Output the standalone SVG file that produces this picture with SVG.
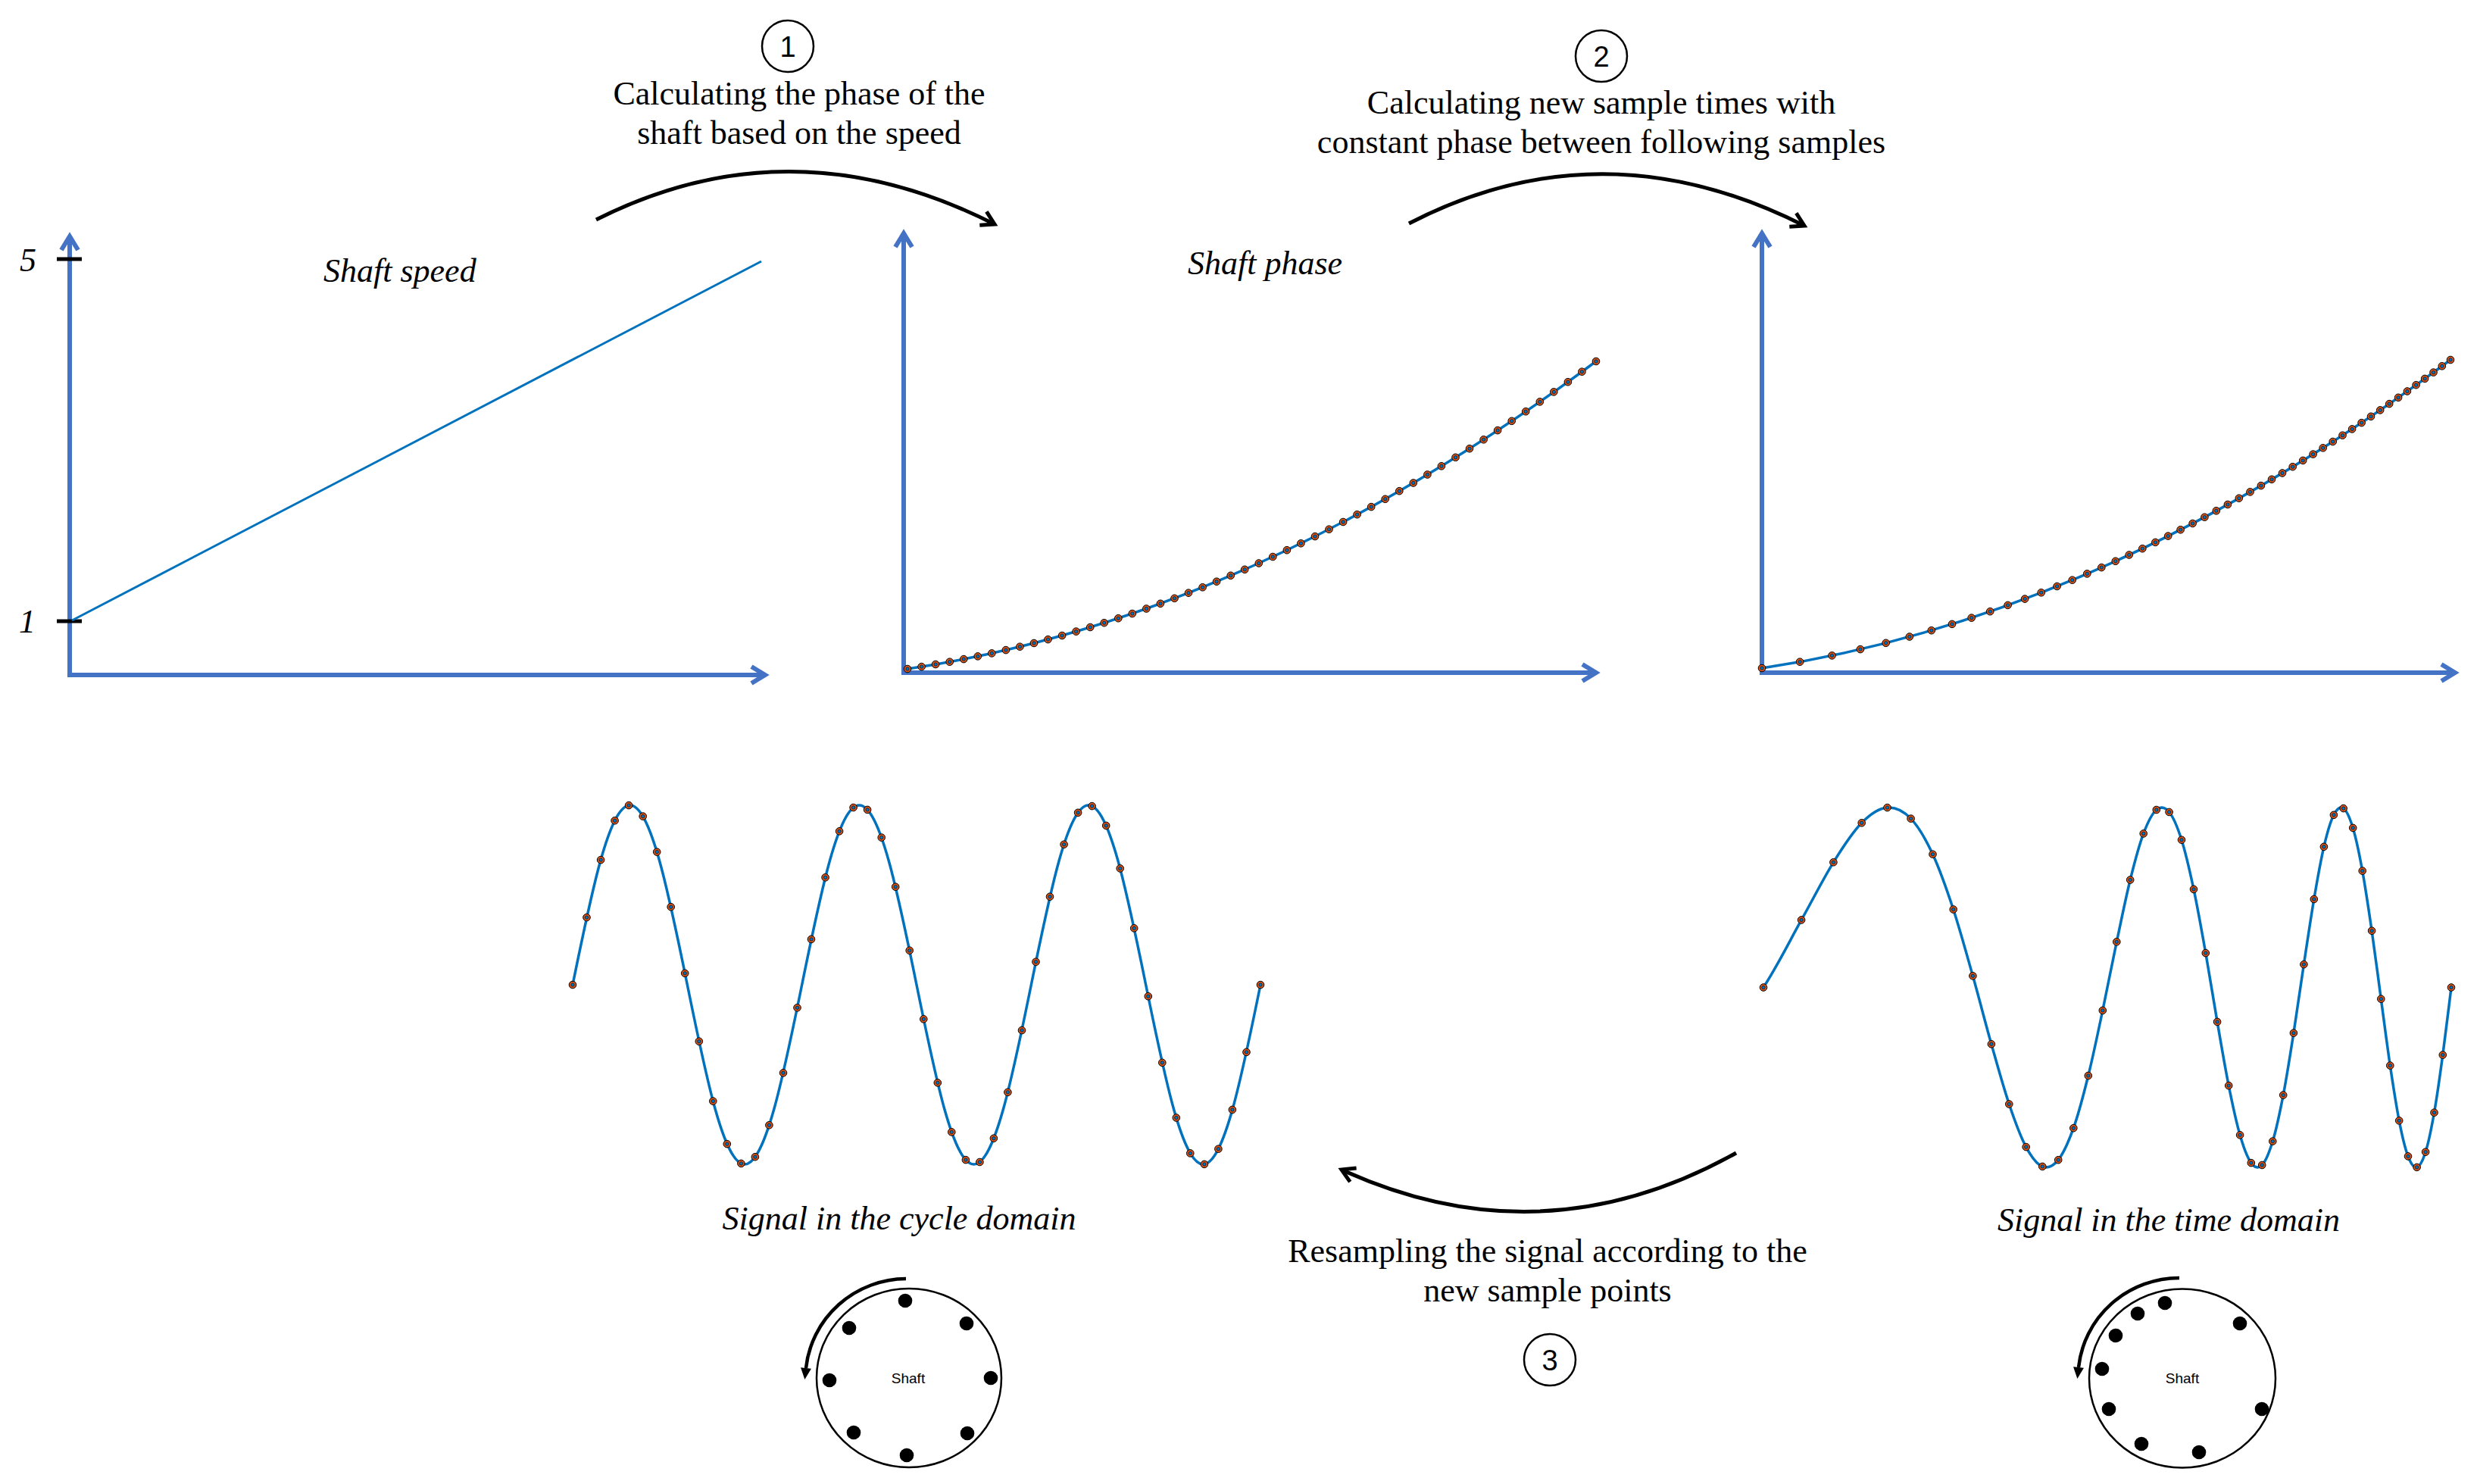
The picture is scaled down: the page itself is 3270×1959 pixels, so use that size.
<svg xmlns="http://www.w3.org/2000/svg" width="3270" height="1959" viewBox="0 0 3270 1959">
<style>
.ax{fill:none;stroke:#4472C4;stroke-width:6;stroke-linejoin:miter;marker-start:url(#axh);marker-end:url(#axh)}
.data{fill:none;stroke:#0072BD;stroke-width:3.5;stroke-linejoin:round}
.mk{fill:none;stroke:none;marker-start:url(#mk);marker-mid:url(#mk);marker-end:url(#mk)}
.t{font-family:"Liberation Serif","Times New Roman",serif;font-size:44px;fill:#000}
.it{font-style:italic}
.num{font-family:"Liberation Sans",Arial,sans-serif;font-size:38px;fill:#000;text-anchor:middle}
.ring{fill:none;stroke:#000;stroke-width:2.5}
.conn{fill:none;stroke:#000;stroke-width:5;marker-end:url(#blk)}
.rot{fill:none;stroke:#000;stroke-width:4.5;marker-end:url(#fa)}
.shaft{fill:none;stroke:#000;stroke-width:2.5}
.sl{font-family:"Liberation Sans",Arial,sans-serif;font-size:19px;fill:#000;text-anchor:middle}
</style>
<defs>
<marker id="axh" markerUnits="userSpaceOnUse" markerWidth="40" markerHeight="40" refX="0" refY="0" orient="auto-start-reverse" style="overflow:visible"><path d="M-18,-11 L0,0 L-18,11" fill="none" stroke="#4472C4" stroke-width="6"/></marker>
<marker id="mk" markerUnits="userSpaceOnUse" markerWidth="14" markerHeight="14" refX="0" refY="0" orient="0" style="overflow:visible"><circle r="4.8" fill="#D95319" stroke="#000" stroke-width="1"/><circle r="2.2" fill="#0072BD" stroke="#000" stroke-width="0.6"/></marker>
<marker id="blk" markerUnits="userSpaceOnUse" markerWidth="40" markerHeight="40" refX="0" refY="0" orient="auto" style="overflow:visible"><path d="M-17,-10 L0,0 L-17,10" fill="none" stroke="#000" stroke-width="5"/></marker>
<marker id="fa" markerUnits="userSpaceOnUse" markerWidth="30" markerHeight="30" refX="0" refY="0" orient="auto" style="overflow:visible"><path d="M0,-7 L15,0 L0,7 Z" fill="#000"/></marker>
</defs>
<rect width="3270" height="1959" fill="#fff"/>

<g id="panel-speed">
<path class="ax" d="M92,312 L92,891 L1010,891"/>
<line x1="75" y1="342" x2="108" y2="342" stroke="#000" stroke-width="5"/>
<line x1="75" y1="820" x2="108" y2="820" stroke="#000" stroke-width="5"/>
<text class="t it" x="37" y="358" text-anchor="middle">5</text>
<text class="t it" x="36" y="835" text-anchor="middle">1</text>
<line x1="95" y1="819" x2="1005" y2="345" stroke="#0072BD" stroke-width="3"/>
<text class="t it" x="427" y="372">Shaft speed</text>
</g>

<g id="panel-phase">
<path class="ax" d="M1193,308 L1193,888 L2107,888"/>
<path class="data" d="M1198,883 Q1652.5,815.3 2107,477"/>
<polyline class="mk" points="1198.0,883.0 1216.6,880.1 1235.1,877.0 1253.7,873.7 1272.2,870.1 1290.8,866.4 1309.3,862.4 1327.9,858.1 1346.4,853.7 1365.0,849.0 1383.5,844.1 1402.1,839.0 1420.6,833.6 1439.2,828.0 1457.7,822.2 1476.3,816.2 1494.8,810.0 1513.4,803.5 1531.9,796.8 1550.5,789.8 1569.0,782.7 1587.6,775.3 1606.1,767.7 1624.7,759.8 1643.2,751.8 1661.8,743.5 1680.3,735.0 1698.9,726.2 1717.4,717.3 1736.0,708.1 1754.5,698.7 1773.1,689.0 1791.6,679.2 1810.2,669.1 1828.7,658.8 1847.3,648.2 1865.8,637.5 1884.4,626.5 1902.9,615.3 1921.5,603.8 1940.0,592.2 1958.6,580.3 1977.1,568.1 1995.7,555.8 2014.2,543.2 2032.8,530.4 2051.3,517.4 2069.9,504.2 2088.4,490.7 2107.0,477.0"/>
<text class="t it" x="1568" y="362">Shaft phase</text>
</g>

<g id="panel-newtimes">
<path class="ax" d="M2326,308 L2326,888 L3241,888"/>
<path class="data" d="M2326,882 Q2780.5,814.2 3235,475"/>
<polyline class="mk" points="2326.0,882.0 2376.1,873.7 2418.5,865.4 2455.9,857.1 2489.7,848.8 2520.8,840.5 2549.8,832.2 2577.0,823.9 2602.7,815.6 2627.2,807.2 2650.6,798.9 2673.1,790.6 2694.7,782.3 2715.6,774.0 2735.7,765.7 2755.3,757.4 2774.3,749.1 2792.8,740.8 2810.7,732.5 2828.3,724.2 2845.4,715.9 2862.2,707.6 2878.6,699.3 2894.6,691.0 2910.4,682.7 2925.8,674.3 2940.9,666.0 2955.8,657.7 2970.5,649.4 2984.9,641.1 2999.0,632.8 3013.0,624.5 3026.7,616.2 3040.2,607.9 3053.6,599.6 3066.7,591.3 3079.7,583.0 3092.5,574.7 3105.1,566.4 3117.6,558.1 3130.0,549.8 3142.2,541.4 3154.2,533.1 3166.1,524.8 3177.9,516.5 3189.6,508.2 3201.1,499.9 3212.5,491.6 3223.8,483.3 3235.0,475.0"/>
</g>

<g id="signal-cycle">
<path class="data" d="M756,1300 c24.68,-121.41 48.28,-237 75.667,-237 c27.39,0 50.99,115.59 75.667,237 c24.68,121.41 48.28,237 75.667,237 c27.39,0 50.99,-115.59 75.667,-237 c24.68,-121.41 48.28,-237 75.667,-237 c27.39,0 50.99,115.59 75.667,237 c24.68,121.41 48.28,237 75.667,237 c27.39,0 50.99,-115.59 75.667,-237 c24.68,-121.41 48.28,-237 75.667,-237 c27.39,0 50.99,115.59 75.667,237 c24.68,121.41 48.28,237 75.667,237 c27.39,0 50.99,-115.59 75.667,-237"/>
<polyline class="mk" points="756.0,1300.0 774.5,1211.1 793.1,1135.1 811.6,1083.3 830.1,1063.1 848.7,1077.6 867.2,1124.6 885.7,1197.2 904.2,1284.8 922.8,1374.7 941.3,1453.6 959.8,1510.1 978.4,1535.9 996.9,1527.2 1015.4,1485.3 1034.0,1416.3 1052.5,1330.3 1071.0,1239.9 1089.6,1158.3 1108.1,1097.3 1126.6,1066.0 1145.1,1068.9 1163.7,1105.6 1182.2,1170.7 1200.7,1254.7 1219.3,1345.3 1237.8,1429.3 1256.3,1494.4 1274.9,1531.1 1293.4,1534.0 1311.9,1502.7 1330.4,1441.8 1349.0,1360.1 1367.5,1269.7 1386.0,1183.7 1404.6,1114.7 1423.1,1072.8 1441.6,1064.1 1460.2,1089.9 1478.7,1146.4 1497.2,1225.3 1515.8,1315.2 1534.3,1402.8 1552.8,1475.5 1571.3,1522.4 1589.9,1536.9 1608.4,1516.7 1626.9,1464.9 1645.5,1388.9 1664.0,1300.0"/>
<text class="t it" x="1187" y="1623" text-anchor="middle">Signal in the cycle domain</text>
</g>

<g id="signal-time">
<path class="data" d="M2328,1303.5 C2347.2,1273.8 2362.7,1241.9 2378.1,1214.4 S2407.1,1159.7 2420.4,1138.3 S2445.9,1098.3 2457.7,1086.3 S2480.7,1067.1 2491.5,1066.1 S2512.6,1070.3 2522.6,1080.6 S2542.2,1107.7 2551.5,1127.7 S2569.9,1173.7 2578.7,1200.5 S2596.0,1258.7 2604.4,1288.3 S2620.9,1350.1 2628.9,1378.3 S2644.7,1434.9 2652.3,1457.5 S2667.4,1500.4 2674.7,1514.1 S2689.2,1537.1 2696.3,1539.9 S2710.4,1539.7 2717.2,1531.2 S2730.7,1507.7 2737.3,1489.2 S2750.4,1445.9 2756.8,1420.0 S2769.6,1363.4 2775.8,1333.9 S2788.2,1272.0 2794.3,1243.3 S2806.3,1185.3 2812.2,1161.5 S2823.9,1115.8 2829.7,1100.4 S2841.2,1073.7 2846.8,1069.0 S2858.1,1065.4 2863.6,1072.0 S2874.6,1091.7 2880.0,1108.7 S2890.7,1149.0 2896.0,1173.9 S2906.6,1228.9 2911.8,1258.1 S2922.0,1319.7 2927.1,1348.9 S2937.2,1408.2 2942.2,1433.1 S2952.2,1481.3 2957.1,1498.3 S2967.0,1528.5 2971.8,1535.1 S2981.5,1542.8 2986.2,1538.0 S2995.6,1522.0 3000.3,1506.6 S3009.6,1469.4 3014.2,1445.6 S3023.4,1392.5 3027.9,1363.7 S3036.9,1302.6 3041.4,1273.1 S3050.4,1212.9 3054.8,1187.0 S3063.6,1136.3 3067.9,1117.8 S3076.6,1084.3 3080.9,1075.8 S3089.5,1064.3 3093.7,1067.1 S3102.0,1079.2 3106.2,1092.9 S3114.6,1127.0 3118.7,1149.6 S3127.0,1200.5 3131.1,1228.7 S3139.3,1289.1 3143.3,1318.7 S3151.3,1379.8 3155.3,1406.6 S3163.3,1459.3 3167.2,1479.3 S3175.1,1516.1 3179.0,1526.4 S3186.8,1541.9 3190.6,1540.9 S3198.3,1532.7 3202.1,1520.7 S3209.7,1490.1 3213.5,1468.7 S3221.1,1420.1 3224.8,1392.6 S3232.3,1333.2 3236.0,1303.5"/>
<polyline class="mk" points="2328.0,1303.5 2378.1,1214.4 2420.4,1138.3 2457.7,1086.3 2491.5,1066.1 2522.6,1080.6 2551.5,1127.7 2578.7,1200.5 2604.4,1288.3 2628.9,1378.3 2652.3,1457.5 2674.7,1514.1 2696.3,1539.9 2717.2,1531.2 2737.3,1489.2 2756.8,1420.0 2775.8,1333.9 2794.3,1243.3 2812.2,1161.5 2829.7,1100.4 2846.8,1069.0 2863.6,1072.0 2880.0,1108.7 2896.0,1173.9 2911.8,1258.1 2927.1,1348.9 2942.2,1433.1 2957.1,1498.3 2971.8,1535.1 2986.2,1538.0 3000.3,1506.6 3014.2,1445.6 3027.9,1363.7 3041.4,1273.1 3054.8,1187.0 3067.9,1117.8 3080.9,1075.8 3093.7,1067.1 3106.2,1092.9 3118.7,1149.6 3131.1,1228.7 3143.3,1318.7 3155.3,1406.6 3167.2,1479.3 3179.0,1526.4 3190.6,1540.9 3202.1,1520.7 3213.5,1468.7 3224.8,1392.6 3236.0,1303.5"/>
<text class="t it" x="2863" y="1625" text-anchor="middle">Signal in the time domain</text>
</g>

<g id="step1">
<circle class="ring" cx="1040" cy="61" r="34"/>
<text class="num" x="1040" y="75">1</text>
<text class="t" x="1055" y="138" text-anchor="middle">Calculating the phase of the</text>
<text class="t" x="1055" y="190" text-anchor="middle">shaft based on the speed</text>
</g>

<g id="step2">
<circle class="ring" cx="2114" cy="74" r="34"/>
<text class="num" x="2114" y="88">2</text>
<text class="t" x="2114" y="150" text-anchor="middle">Calculating new sample times with</text>
<text class="t" x="2114" y="202" text-anchor="middle">constant phase between following samples</text>
</g>

<g id="step3">
<text class="t" x="2043" y="1666" text-anchor="middle">Resampling the signal according to the</text>
<text class="t" x="2043" y="1718" text-anchor="middle">new sample points</text>
<circle class="ring" cx="2046" cy="1795" r="34"/>
<text class="num" x="2046" y="1809">3</text>
</g>

<g id="shaft-cycle">
<ellipse class="shaft" cx="1200" cy="1819" rx="122" ry="118"/>
<g fill="#000">
<circle cx="1195" cy="1717" r="9.3"/>
<circle cx="1276" cy="1747" r="9.3"/>
<circle cx="1308" cy="1819" r="9.3"/>
<circle cx="1277" cy="1892" r="9.3"/>
<circle cx="1197" cy="1921" r="9.3"/>
<circle cx="1127" cy="1891" r="9.3"/>
<circle cx="1095" cy="1822" r="9.3"/>
<circle cx="1121" cy="1753" r="9.3"/>
</g>
<text class="sl" x="1199" y="1826">Shaft</text>
<path class="rot" d="M1196,1688 A134,132 0 0 0 1064,1806"/>
</g>

<g id="shaft-time">
<ellipse class="shaft" cx="2881" cy="1819.5" rx="123" ry="118"/>
<g fill="#000">
<circle cx="2858" cy="1720" r="9.3"/>
<circle cx="2822" cy="1734" r="9.3"/>
<circle cx="2793" cy="1763" r="9.3"/>
<circle cx="2775" cy="1807" r="9.3"/>
<circle cx="2784" cy="1860" r="9.3"/>
<circle cx="2827" cy="1906" r="9.3"/>
<circle cx="2903" cy="1917" r="9.3"/>
<circle cx="2986" cy="1860" r="9.3"/>
<circle cx="2957" cy="1747" r="9.3"/>
</g>
<text class="sl" x="2881" y="1826">Shaft</text>
<path class="rot" d="M2877,1687 A134,132 0 0 0 2744,1805"/>
</g>

<g id="connectors">
<path class="conn" d="M787,290 Q1045,160 1313,296"/>
<path class="conn" d="M1860,295 Q2115,163 2382,298"/>
<path class="conn" d="M2292,1522 Q2036,1665 1771,1544"/>
</g>
</svg>
